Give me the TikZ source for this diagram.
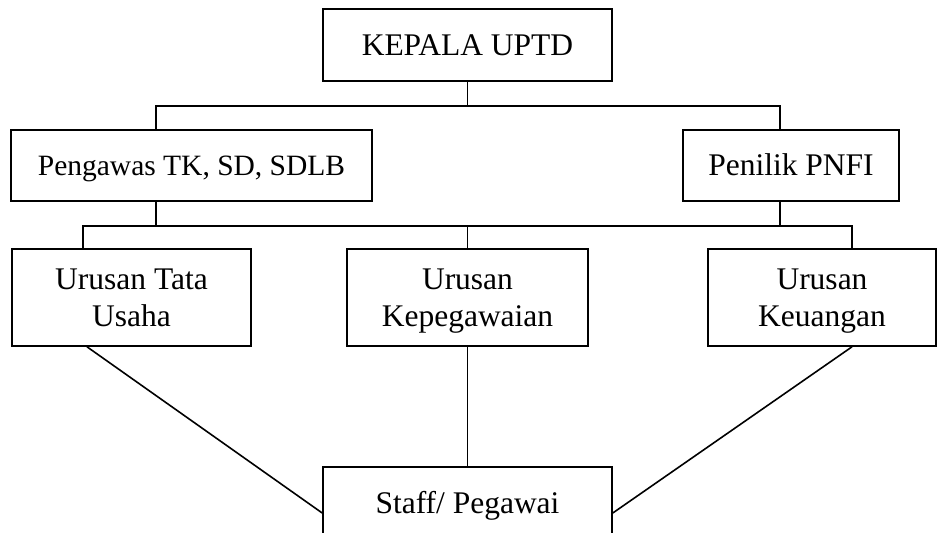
\documentclass[tikz,border=0pt]{standalone}
\usepackage{fontspec}
\setmainfont{Liberation Serif}
\begin{document}
\begin{tikzpicture}[x=1pt, y=-1pt, line width=1.6pt,
  kotak/.style={draw=black, rectangle, inner sep=0pt, align=center, font=\fontsize{31.5}{37}\selectfont},
  satu/.style={kotak, text height=21pt, text depth=1pt, minimum height=72pt},
  dua/.style={kotak, minimum height=97pt}]
\useasboundingbox (0,0) rectangle (938,533);
\clip (0,0) rectangle (938,533);

\node[satu, minimum width=289pt](kepala) at (467.5,45) {KEPALA UPTD};
\node[satu, minimum width=361pt, minimum height=71pt, font=\fontsize{29.5}{37}\selectfont](pengawas) at (191.5,165.5) {Pengawas TK, SD, SDLB};
\node[satu, minimum width=216pt, minimum height=71pt](penilik) at (791,165.5) {Penilik PNFI};

\node[dua, minimum width=239pt](tu) at (131.5,297.5) {Urusan Tata\\Usaha};
\node[dua, minimum width=241pt](kepeg) at (467.5,297.5) {Urusan\\\raisebox{0pt}[\height][0pt]{Kepegawaian}};
\node[dua, minimum width=228pt](keu) at (822,297.5) {Urusan\\\raisebox{0pt}[\height][0pt]{Keuangan}};

\node[satu, minimum width=289pt](staff) at (467.5,503) {Staff/ Pegawai};

% titik belok garis
\coordinate (k1) at (156,106);
\coordinate (k2) at (780,106);
\coordinate (u1) at (83,226);
\coordinate (u2) at (852,226);

\draw (kepala.south) to (kepala.south |- k1);
\draw (k1 |- pengawas.north) to (k1) to (k2) to (k2 |- penilik.north);

\draw (k1 |- pengawas.south) to (k1 |- u1);
\draw (k2 |- penilik.south) to (k2 |- u1);
\draw (u1 |- tu.north) to (u1) to (u2) to (u2 |- keu.north);
\draw (kepeg.north) to (kepeg.north |- u1);

\draw (kepeg.south) to (staff.north);
\draw ([xshift=4pt]u1 |- tu.south) to (staff.base west);
\draw (u2 |- keu.south) to (staff.base east);

\end{tikzpicture}
\end{document}
